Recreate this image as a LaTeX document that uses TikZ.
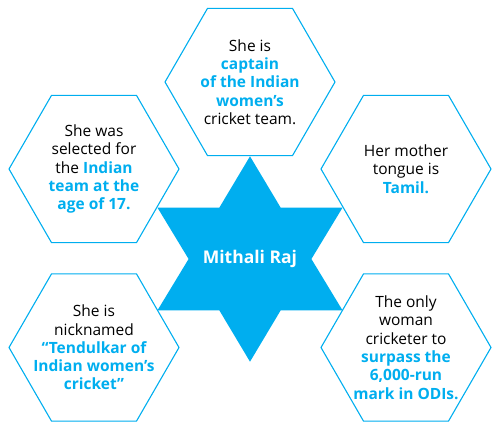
\documentclass[tikz,border=0pt]{standalone}
\usepackage{fontspec}
\setmainfont{Open Sans}
\usetikzlibrary{shapes.geometric}
\definecolor{skyb}{RGB}{0,174,239}
\tikzset{
  hexbox/.style={regular polygon, regular polygon sides=6, minimum size=170pt, inner sep=0pt, draw=skyb, line width=1.1pt},
  hextext/.style={align=center, font=\fontsize{15.5}{18.3}\selectfont, text=black, inner sep=0pt},
  startext/.style={font=\fontsize{17.5}{20}\selectfont\bfseries, text=white, inner sep=0pt},
  starfill/.style={fill=skyb, draw=none}
}
\newcommand{\hlt}[1]{\textcolor{skyb}{\bfseries #1}}
\begin{document}
\begin{tikzpicture}[x=1pt,y=-1pt]
\useasboundingbox (0,0) rectangle (500,430);
% star
\path[starfill] (250,156.3) -- (280.7,207.7) -- (342.5,207.7) -- (311.4,259) -- (342.5,310.3) -- (280.7,310.3)
  -- (250,361.7) -- (219.3,310.3) -- (157.5,310.3) -- (188.6,259) -- (157.5,207.7) -- (219.3,207.7) -- cycle;
\node[startext] (ctr) at (250,259) {Mithali Raj};
% hexagons
\node[hexbox] (hT) at (250,82) {};
\node[hexbox] (hL) at (94,169) {};
\node[hexbox] (hR) at (406,169) {};
\node[hexbox] (hBL) at (94,347.5) {};
\node[hexbox] (hBR) at (406,347.5) {};
% texts
\node[hextext] (tT) at (hT.center) {She is\\\hlt{captain}\\\hlt{of the Indian}\\\hlt{women’s}\\cricket team.};
\node[hextext] (tL) at (hL.center) {She was\\selected for\\the \hlt{Indian}\\\hlt{team at the}\\\hlt{age of 17.}};
\node[hextext] (tR) at (hR.center) {Her mother\\tongue is\\\hlt{Tamil.}};
\node[hextext] (tBL) at (hBL.center) {She is\\nicknamed\\\hlt{“Tendulkar of}\\\hlt{Indian women’s}\\\hlt{cricket”}};
\node[hextext] (tBR) at (hBR.center) {The only\\woman\\cricketer to\\\hlt{surpass the}\\\hlt{6,000-run}\\\hlt{mark in ODIs.}};
\end{tikzpicture}
\end{document}
